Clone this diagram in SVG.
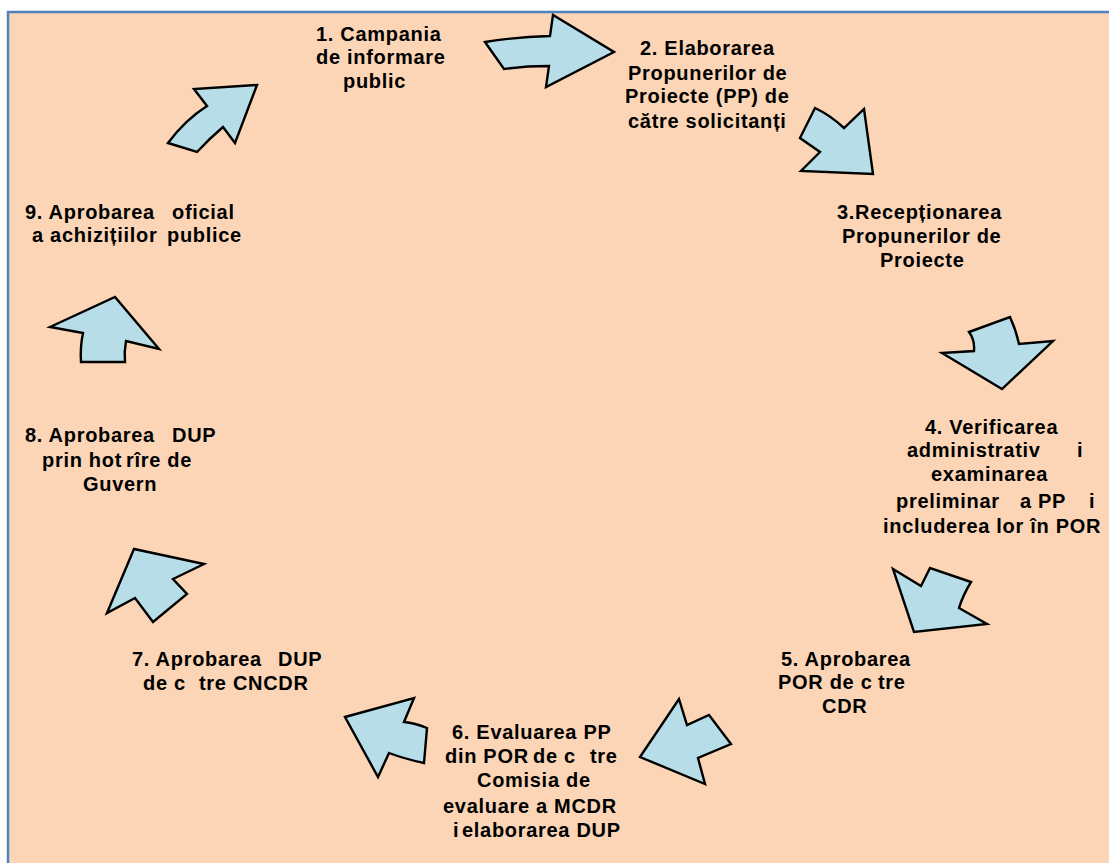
<svg xmlns="http://www.w3.org/2000/svg" width="1109" height="863" viewBox="0 0 1109 863">
<style>
.bg{fill:#FBD5B5;stroke:#4F81BD;stroke-width:2.5}
.ar{fill:#B7DEE8;stroke:#000;stroke-width:2.4;stroke-linejoin:miter}
text{font-family:"Liberation Sans",Arial,sans-serif;font-weight:bold;font-size:20px;letter-spacing:0.7px;fill:#000}
</style>
<rect width="1109" height="863" fill="#fff"/>
<rect class="bg" x="8" y="12" width="1130" height="880"/>
<g id="connectors">
<path class="ar" d="M168,143 Q185,120 207,106 L194,89 L257,85 L235,143 L223,127 Q210,138 197,152 Z"/>
<path class="ar" d="M485,42 Q515,37 550,36 L553,15 L614,52 L546,87 L549,66 Q525,66 504,69 Z"/>
<path class="ar" d="M815,108 Q830,115 844,128 L864,109 L873,174 L801,171 L820,152 L800,138 Z"/>
<path class="ar" d="M969,332 L1010,317 Q1016,330 1019,344 L1053,341 L1002,389 L942,353 L974,351 Q975,340 969,332 Z"/>
<path class="ar" d="M893,569 L921,586 L930,568 L971,582 Q963,595 959,608 L987,624 L914,632 Z"/>
<path class="ar" d="M679,699 L687,725 L709,715 L731,744 L698,758 L705,784 L640,757 Z"/>
<path class="ar" d="M345,717 L414,698 L404,722 Q415,723 427,728 L424,763 Q405,759 389,753 L378,777 Z"/>
<path class="ar" d="M107,613 L134,549 L204,564 L173,579 L187,594 L153,622 L135,598 Z"/>
<path class="ar" d="M50,327 L115,297 L159,349 L126,341 Q124,352 125,362 L81,362 Q80,347 83,333 Z"/>
</g>
<g id="node1">
<text x="316" y="41">1. Campania</text>
<text x="316" y="64">de informare</text>
<text x="343" y="88">public</text>
</g>
<g id="node2">
<text x="640" y="55">2. Elaborarea</text>
<text x="628" y="80">Propunerilor de</text>
<text x="625" y="103">Proiecte (PP) de</text>
<text x="628" y="128">către solicitanți</text>
</g>
<g id="node3">
<text x="837" y="219">3.Recepționarea</text>
<text x="842" y="243">Propunerilor de</text>
<text x="880" y="267">Proiecte</text>
</g>
<g id="node4">
<text x="925" y="434">4. Verificarea</text>
<text y="457"><tspan x="907">administrativ</tspan><tspan x="1077">i</tspan></text>
<text x="931" y="481">examinarea</text>
<text y="508"><tspan x="896">preliminar</tspan><tspan x="1020">a PP</tspan><tspan x="1089">i</tspan></text>
<text x="883" y="533">includerea lor în POR</text>
</g>
<g id="node5">
<text x="781" y="666">5. Aprobarea</text>
<text y="689"><tspan x="778">POR de c</tspan><tspan x="878">tre</tspan></text>
<text x="822" y="713">CDR</text>
</g>
<g id="node6">
<text x="452" y="739">6. Evaluarea PP</text>
<text y="763"><tspan x="445">din POR</tspan><tspan x="533">de c</tspan><tspan x="590">tre</tspan></text>
<text x="477" y="787">Comisia de</text>
<text x="443" y="813">evaluare a MCDR</text>
<text y="837"><tspan x="453">i</tspan><tspan x="462">elaborarea DUP</tspan></text>
</g>
<g id="node7">
<text y="666"><tspan x="132">7. Aprobarea</tspan><tspan x="278">DUP</tspan></text>
<text y="690"><tspan x="143">de c</tspan><tspan x="199">tre CNCDR</tspan></text>
</g>
<g id="node8">
<text y="442"><tspan x="25">8. Aprobarea</tspan><tspan x="172">DUP</tspan></text>
<text y="467"><tspan x="42">prin hot</tspan><tspan x="126">rîre de</tspan></text>
<text x="83" y="491">Guvern</text>
</g>
<g id="node9">
<text y="219"><tspan x="25">9. Aprobarea</tspan><tspan x="172">oficial</tspan></text>
<text y="242"><tspan x="32">a achizițiilor</tspan><tspan x="167">publice</tspan></text>
</g>
</svg>
